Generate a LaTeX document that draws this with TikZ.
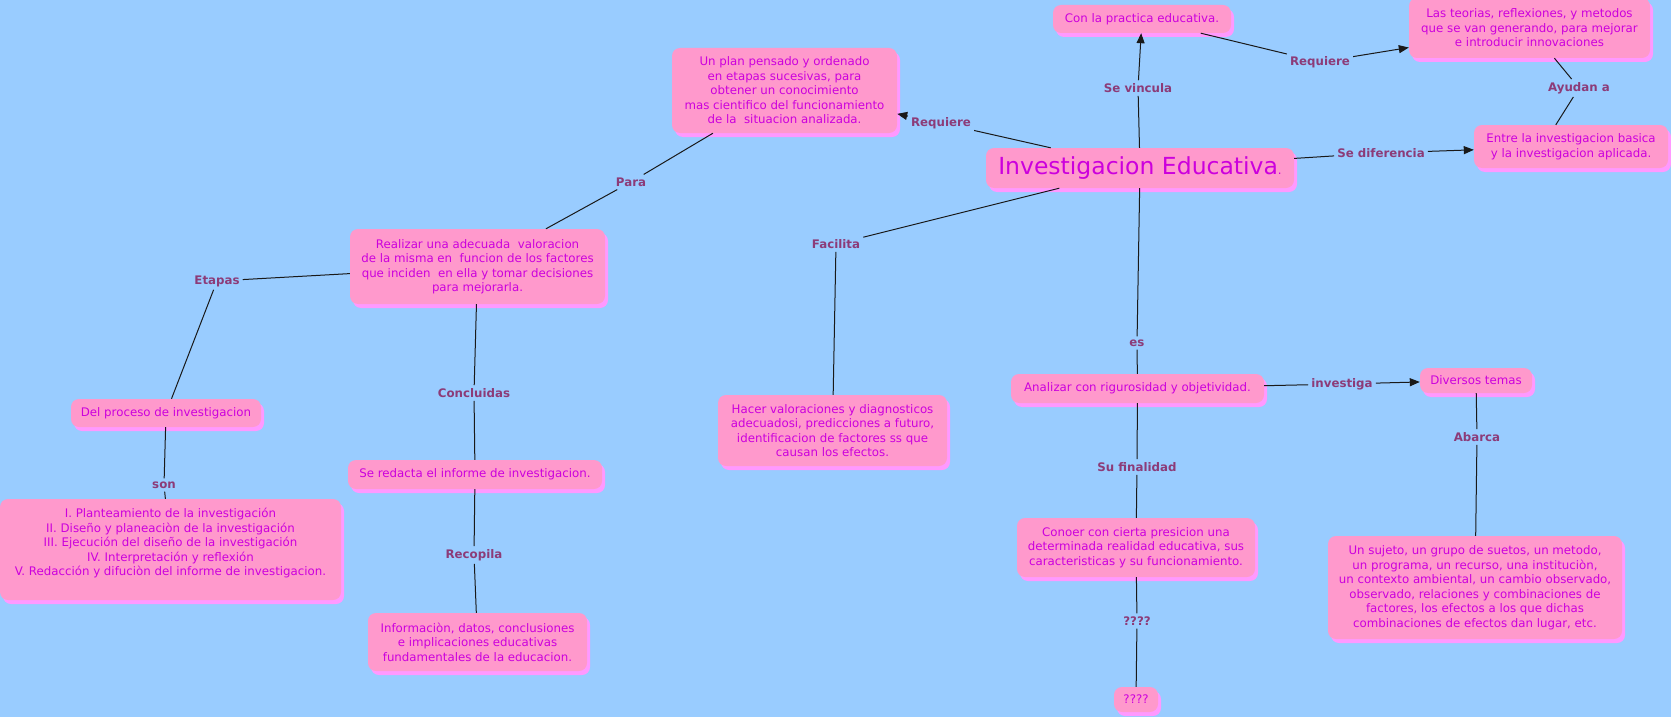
\documentclass[tikz,border=0pt]{standalone}
\usepackage{fontspec}
\setmainfont{DejaVu Sans}
\usetikzlibrary{arrows.meta,shadows}
\definecolor{mapbg}{HTML}{99CCFF}
\definecolor{mapbox}{HTML}{FF99CC}
\definecolor{mapshade}{HTML}{FF99FF}
\definecolor{maptext}{HTML}{CC00DD}
\definecolor{maplink}{HTML}{8C3B78}
\tikzset{
 concept/.style={rounded corners=8pt,fill=mapbox,text=maptext,align=center,inner sep=0pt,
  font=\fontsize{11.8}{14.5}\selectfont,
  drop shadow={shadow xshift=3pt,shadow yshift=-4pt,fill=mapshade,opacity=1}},
 boxsize/.style 2 args={minimum width=#1pt,minimum height=#2pt},
 linkword/.style={text=maplink,font=\bfseries\fontsize{11.8}{14}\selectfont,inner sep=3pt},
 link/.style={line width=1pt,black!90},
 linkto/.style={link,-{Triangle[length=10pt,width=8pt]}}
}

\begin{document}
\begin{tikzpicture}[x=1pt,y=-1pt]
 \fill[mapbg] (0,0) rectangle (1671,717);
 \useasboundingbox (0,0) rectangle (1671,717);
 \node[concept,boxsize={308}{40},font=\fontsize{23.5}{26}\selectfont] (main) at (1140,168)
  {Investigacion Educativa{\fontsize{11.8}{14}\selectfont.}};
 \node[concept,boxsize={225}{85}] (plan) at (784.5,90.5)
  {Un plan pensado y ordenado\\en etapas sucesivas, para\\obtener un conocimiento\\mas cientifico del funcionamiento\\de la\ \ situacion analizada.};
 \node[concept,boxsize={178}{28}] (practica) at (1142,19) {Con la practica educativa.};
 \node[concept,boxsize={241}{60}] (teorias) at (1529.5,28)
  {Las teorias, reflexiones, y metodos\\que se van generando, para mejorar\\e introducir innovaciones};
 \node[concept,boxsize={194}{43}] (tipos) at (1571,146.5)
  {Entre la investigacion basica\\y la investigacion aplicada.};
 \node[concept,boxsize={255}{75}] (valorar) at (477.5,266.5)
  {Realizar una adecuada\ \ valoracion\\de la misma en\ \ funcion de los factores\\que inciden\ \ en ella y tomar decisiones\\para mejorarla.};
 \node[concept,boxsize={190}{28}] (proceso) at (166,413) {Del proceso de investigacion};
 \node[concept,boxsize={341}{101}] (fases) at (170.5,549.5)
  {I. Planteamiento de la investigación\\II. Diseño y planeaciòn de la investigación\\III. Ejecución del diseño de la investigación\\IV. Interpretación y reflexión\\V. Redacción y difuciòn del informe de investigacion.\\~};
 \node[concept,boxsize={254}{29}] (informe) at (475,474.5) {Se redacta el informe de investigacion.};
 \node[concept,boxsize={219}{58}] (datos) at (477.5,642)
  {Informaciòn, datos, conclusiones\\ e implicaciones educativas\\fundamentales de la educacion.};
 \node[concept,boxsize={229}{71}] (diagnostico) at (832.5,430.5)
  {Hacer valoraciones y diagnosticos\\adecuadosi, predicciones a futuro,\\identificacion de factores ss que\\causan los efectos.};
 \node[concept,boxsize={253}{29}] (analizar) at (1137.5,388.5) {Analizar con rigurosidad y objetividad.};
 \node[concept,boxsize={112}{25}] (temas) at (1476,380.5) {Diversos temas};
 \node[concept,boxsize={294}{103}] (objetos) at (1475,587.5)
  {Un sujeto, un grupo de suetos, un metodo,\\un programa, un recurso, una instituciòn,\\un contexto ambiental, un cambio observado,\\observado, relaciones y combinaciones de\\factores, los efectos a los que dichas\\combinaciones de efectos dan lugar, etc.};
 \node[concept,boxsize={238}{59}] (finalidad) at (1136,547.5)
  {Conoer con cierta presicion una\\determinada realidad educativa, sus\\caracteristicas y su funcionamiento.};
 \node[concept,boxsize={44}{25}] (incognita) at (1136,699.5) {????};

 \node[linkword] (lreqA) at (941,123) {Requiere};
 \node[linkword] (lvinc) at (1138,88) {Se vincula};
 \node[linkword] (lreqB) at (1320,62) {Requiere};
 \node[linkword] (layud) at (1579,88) {Ayudan a};
 \node[linkword] (ldifer) at (1381,153) {Se diferencia};
 \node[linkword] (lpara) at (631,182) {Para};
 \node[linkword] (letapas) at (217,281) {Etapas};
 \node[linkword] (lson) at (164,485) {son};
 \node[linkword] (lconcl) at (474,393) {Concluidas};
 \node[linkword] (lrecop) at (474,555) {Recopila};
 \node[linkword] (lfacil) at (836,244) {Facilita};
 \node[linkword] (les) at (1137,343) {es};
 \node[linkword] (linvest) at (1342,384) {investiga};
 \node[linkword] (labarca) at (1477,437) {Abarca};
 \node[linkword] (lfinal) at (1137,467) {Su finalidad};
 \node[linkword] (lincog) at (1137,621) {????};

 \foreach \a/\b in {main/lreqA,main/lvinc,practica/lreqB,teorias/layud,main/ldifer,
  plan/lpara,lpara/valorar,valorar/letapas,letapas/proceso,proceso/lson,lson/fases,
  valorar/lconcl,lconcl/informe,informe/lrecop,lrecop/datos,main/lfacil,lfacil/diagnostico,
  main/les,les/analizar,analizar/linvest,temas/labarca,labarca/objetos,
  analizar/lfinal,lfinal/finalidad,finalidad/lincog,lincog/incognita}
  \draw[link] (\a) -- (\b);
 \draw[link] (layud) -- (tipos.125);
 \foreach \a/\b in {lreqA/plan,lvinc/practica,lreqB/teorias,ldifer/tipos,linvest/temas}
  \draw[linkto] (\a) -- (\b);
\end{tikzpicture}
\end{document}
